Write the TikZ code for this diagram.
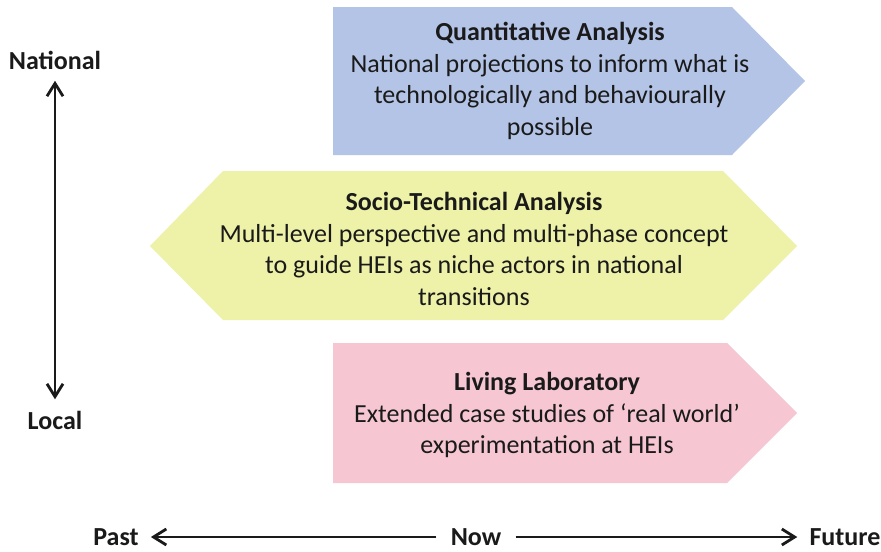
\documentclass[tikz,border=0pt]{standalone}
\usepackage{fontspec}
\setmainfont{Carlito}
\usetikzlibrary{arrows.meta, positioning}
\definecolor{qblue}{HTML}{B4C4E7}
\definecolor{syellow}{HTML}{EEF2A8}
\definecolor{lpink}{HTML}{F6C7D3}
\definecolor{ink}{HTML}{1A1A1A}
\tikzset{
  >={Straight Barb[length=3.2mm,width=4mm]},
  panel/.style={fill=#1, draw=none},
  paneltext/.style={
    align=center, text=ink, inner sep=0pt,
    font=\fontsize{18.5}{22.5}\selectfont
  },
  axlab/.style={text=ink, inner xsep=8.5pt, inner ysep=0pt,
    font=\fontsize{18.5}{20}\selectfont\bfseries},
  axarr/.style={line width=2pt, draw=ink}
}

\begin{document}
\begin{tikzpicture}[x=0.025cm, y=-0.025cm]
  \useasboundingbox (0,0) rectangle (881,552);
  \fill[white] (0,0) rectangle (881,552);
  % panels
  \fill[panel=qblue] (333,7) -- (732,7) -- (805,81) -- (732,155) -- (333,155) -- cycle;
  \node[paneltext] (quant) at (550,81)
    {\textbf{Quantitative Analysis}\\National projections to inform what is\\technologically and behaviourally\\possible};
  \fill[panel=syellow] (150,246) -- (223,171) -- (723,171) -- (797,246) -- (723,320) -- (223,320) -- cycle;
  \node[paneltext] (socio) at (474,249)
    {\textbf{Socio-Technical Analysis}\\Multi-level perspective and multi-phase concept\\to guide HEIs as niche actors in national\\transitions};
  \fill[panel=lpink] (333,343) -- (727,343) -- (797,413) -- (727,483) -- (333,483) -- cycle;
  \node[paneltext] (living) at (547,415)
    {\textbf{Living Laboratory}\\Extended case studies of `real world'\\experimentation at HEIs};
  % axes
  \node[axlab] (nat) at (55,60) {National};
  \node[axlab] (loc) at (55,420) {Local};
  \draw[axarr,<->,shorten <=8pt,shorten >=8pt] (nat.south) -- (loc.north);
  \node[axlab] (past) at (116,537) {Past};
  \node[axlab] (now) at (476,537) {Now};
  \node[axlab] (future) at (845,537) {Future};
  \draw[axarr,->,shorten <=1.5pt] (now) -- (past);
  \draw[axarr,->,shorten <=1.5pt] (now) -- (future);
\end{tikzpicture}
\end{document}
